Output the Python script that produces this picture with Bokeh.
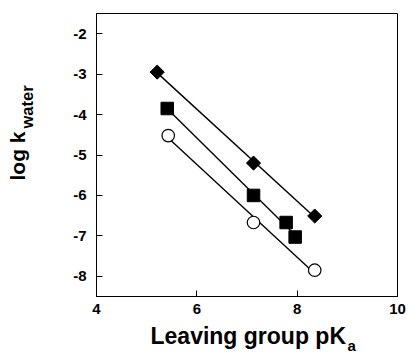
import numpy as np
from bokeh.plotting import figure
from bokeh.models import Label, Range1d, FixedTicker
from bokeh.embed import file_html
from bokeh.resources import INLINE

# Data
diamond_x = [5.21, 7.13, 8.35]
diamond_y = [-2.95, -5.20, -6.51]
square_x = [5.41, 7.13, 7.78, 7.96]
square_y = [-3.85, -6.00, -6.67, -7.03]
circle_x = [5.43, 7.13, 8.35]
circle_y = [-4.52, -6.67, -7.85]

x_ticks = [4, 6, 8, 10]
y_ticks = [-8, -7, -6, -5, -4, -3, -2]

x_title = "Leaving group pK"
x_title_sub = "a"
y_title = "log k"
y_title_sub = "water"

FONT = "Liberation Sans"

p = figure(width=408, height=352, output_backend="svg", toolbar_location=None,
           x_range=Range1d(4, 10), y_range=Range1d(-8.5, -1.5),
           min_border_left=96, min_border_right=11, min_border_top=13, min_border_bottom=56)
p.grid.visible = False
p.outline_line_color = "black"
p.background_fill_color = "white"
p.border_fill_color = "white"

for ax in (p.xaxis[0], p.yaxis[0]):
    ax.axis_line_color = "black"
    ax.major_tick_in = 6
    ax.major_tick_out = 0
    ax.minor_tick_line_color = None
    ax.major_label_text_font = FONT
    ax.major_label_text_font_style = "bold"
    ax.major_label_text_font_size = "15px"
    ax.major_label_text_color = "black"
p.xaxis.ticker = FixedTicker(ticks=x_ticks)
p.yaxis.ticker = FixedTicker(ticks=y_ticks)
p.xaxis.major_label_overrides = {t: str(t) for t in x_ticks}
p.yaxis.major_label_overrides = {t: str(t) for t in y_ticks}
p.xaxis.major_label_standoff = 7
p.yaxis.major_label_standoff = 10


def fit_line(xs, ys):
    m, b = np.polyfit(xs, ys, 1)
    x0, x1 = min(xs), max(xs)
    return [x0, x1], [m * x0 + b, m * x1 + b]


for xs, ys in ((diamond_x, diamond_y), (square_x, square_y), (circle_x, circle_y)):
    lx, ly = fit_line(xs, ys)
    p.line(lx, ly, line_color="black", line_width=1.4)

p.scatter(diamond_x, diamond_y, marker="square", angle=np.pi / 4, size=10,
          fill_color="black", line_color="black")
p.scatter(square_x, square_y, marker="square", size=12.5,
          fill_color="black", line_color="black")
p.scatter(circle_x, circle_y, marker="circle", size=12.5,
          fill_color="white", line_color="black", line_width=1.2)


def lab(text, x, y, size, angle=0.0):
    return Label(x=x, y=y, x_units="screen", y_units="screen", text=text,
                 text_font=FONT, text_font_style="bold", text_font_size=size,
                 text_color="black", text_baseline="alphabetic", text_align="left",
                 angle=angle)


# Axis titles (with subscripts) placed in the side panels
p.add_layout(lab(x_title, 54, 7, "23px"), "below")
p.add_layout(lab(x_title_sub, -50, -49, "15px"), "right")
p.add_layout(lab(y_title, -30, 116, "21px", np.pi / 2), "left")
p.add_layout(lab(y_title_sub, -3, 168, "16.5px", np.pi / 2), "left")

open("out.html", "w").write(file_html(p, INLINE))
